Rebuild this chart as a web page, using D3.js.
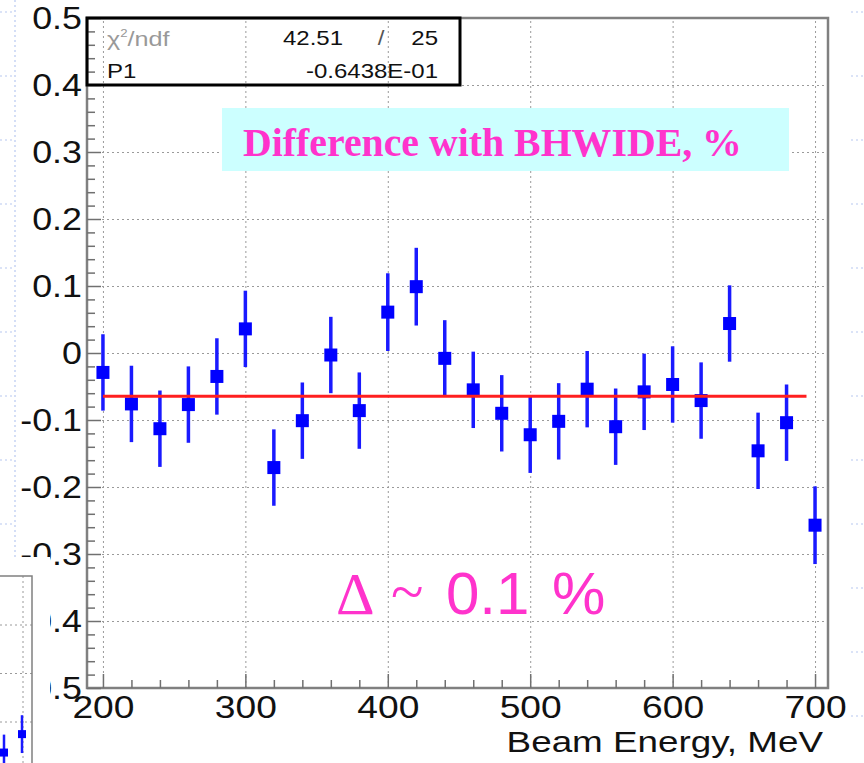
<!DOCTYPE html>
<html>
<head>
<meta charset="utf-8">
<script src="https://cdn.jsdelivr.net/npm/d3@7"></script>
<style>
  body { margin: 0; background: #fff; }
  svg { display: block; }
</style>
</head>
<body>
<div id="chart"></div>
<script>
// beam energy points (MeV) and difference with BHWIDE (%)
const energy = [200, 220, 240, 260, 280, 300, 320, 340, 360, 380, 400, 420, 440,
  460, 480, 500, 520, 540, 560, 580, 600, 620, 640, 660, 680, 700];
const diff = [-0.029, -0.076, -0.113, -0.077, -0.035, 0.036, -0.171, -0.101, -0.003,
  -0.086, 0.061, 0.099, -0.008, -0.055, -0.090, -0.122, -0.102, -0.054, -0.110,
  -0.058, -0.047, -0.071, 0.044, -0.146, -0.104, -0.257];
const diffErr = [0.057, 0.057, 0.057, 0.057, 0.057, 0.057, 0.057, 0.057, 0.057,
  0.057, 0.058, 0.058, 0.057, 0.057, 0.057, 0.057, 0.057, 0.057, 0.057,
  0.057, 0.057, 0.057, 0.057, 0.057, 0.057, 0.058];

// constant fit
const fitP1 = -0.06438;
const fitRange = [200, 694];
const statRows = [
  ['/ndf', '42.51', '25'],
  ['P1', '-0.6438E-01']
];

const xMajor = [200, 300, 400, 500, 600, 700];
const yMajor = [-0.5, -0.4, -0.3, -0.2, -0.1, 0, 0.1, 0.2, 0.3, 0.4, 0.5];

// piece of the neighbouring plot peeking in at bottom left
const fragX = [-0.95, -0.05];
const fragY = [-1.63, -1.25];
const fragErr = [0.37, 0.39];
const fragGrid = [1, 0, -1];

const W = 864, H = 763;
const plot = {left: 87, right: 828, top: 18, bottom: 688};
const sans = '"Liberation Sans", Arial, sans-serif';
const serif = '"Liberation Serif", "Times New Roman", serif';
const magenta = '#ff33cc';

const svg = d3.select('#chart')
  .append('svg')
  .attr('width', W)
  .attr('height', H);

const x = d3.scaleLinear().domain([188.8, 709.1]).range([plot.left, plot.right]);
const y = d3.scaleLinear().domain([-0.5, 0.5]).range([plot.bottom, plot.top]);

//Background slide dotted guides
const bgY = d3.scaleLinear().domain([0, 11]).range([12, 716]);
const bg = svg.append('g').attr('stroke', '#b8c8f0').attr('stroke-width', 1.2)
  .attr('stroke-dasharray', '2,3');
bg.append('line').attr('x1', 15).attr('x2', 15).attr('y1', 0).attr('y2', 557);
bg.selectAll('.bgL').data(d3.range(9)).enter().append('line')
  .attr('x1', 0).attr('x2', 12)
  .attr('y1', d => bgY(d)).attr('y2', d => bgY(d));
bg.selectAll('.bgR').data(d3.range(12)).enter().append('line')
  .attr('x1', 851).attr('x2', 864)
  .attr('y1', d => bgY(d)).attr('y2', d => bgY(d));

//Grid
const grid = svg.append('g');
grid.append('g')
  .attr('transform', 'translate(' + plot.left + ',0)')
  .call(d3.axisLeft(y).tickValues(yMajor).tickSize(-(plot.right - plot.left)).tickFormat(''))
  .call(g => g.select('.domain').remove());
grid.append('g')
  .attr('transform', 'translate(0,' + plot.bottom + ')')
  .call(d3.axisBottom(x).tickValues(xMajor).tickSize(-(plot.bottom - plot.top)).tickFormat(''))
  .call(g => g.select('.domain').remove());
grid.selectAll('line')
  .attr('stroke', '#9a9a9a')
  .attr('stroke-width', 1)
  .attr('stroke-dasharray', '2,3');

//Label box
svg.append('rect')
  .attr('x', 222).attr('y', 108)
  .attr('width', 567).attr('height', 63)
  .attr('fill', '#ccffff');
svg.append('text')
  .attr('x', 243).attr('y', 156)
  .attr('font-family', serif)
  .attr('font-weight', 'bold')
  .attr('font-size', 39.8)
  .attr('fill', magenta)
  .text('Difference with BHWIDE, %');

//Frame
svg.append('rect')
  .attr('x', plot.left).attr('y', plot.top)
  .attr('width', plot.right - plot.left)
  .attr('height', plot.bottom - plot.top)
  .attr('fill', 'none')
  .attr('stroke', '#808080')
  .attr('stroke-width', 2.5);

//Axes (ticks point inward)
const yMinor = d3.range(-50, 51, 2).filter(v => v % 10 !== 0).map(v => v / 100);
const xMinor = d3.range(200, 701, 20).filter(v => v % 100 !== 0);

const yAxis = svg.append('g')
  .attr('transform', 'translate(' + plot.left + ',0)')
  .call(d3.axisLeft(y).tickValues(yMajor).tickSize(-14).tickPadding(4.5).tickFormat(d => String(d)));
svg.append('g')
  .attr('transform', 'translate(' + plot.left + ',0)')
  .call(d3.axisLeft(y).tickValues(yMinor).tickSize(-8).tickFormat(''))
  .call(g => g.select('.domain').remove())
  .selectAll('line').attr('stroke', '#707070').attr('stroke-width', 1.5);

const xAxis = svg.append('g')
  .attr('transform', 'translate(0,' + plot.bottom + ')')
  .call(d3.axisBottom(x).tickValues(xMajor).tickSize(-14).tickPadding(8).tickFormat(d => String(d)));
svg.append('g')
  .attr('transform', 'translate(0,' + plot.bottom + ')')
  .call(d3.axisBottom(x).tickValues(xMinor).tickSize(-8).tickFormat(''))
  .call(g => g.select('.domain').remove())
  .selectAll('line').attr('stroke', '#707070').attr('stroke-width', 1.5);

[yAxis, xAxis].forEach(function (ax) {
  ax.select('.domain').remove();
  ax.selectAll('line').attr('stroke', '#707070').attr('stroke-width', 1.5);
  ax.selectAll('text')
    .attr('font-family', sans)
    .attr('fill', '#111');
});
yAxis.selectAll('text').attr('font-size', 32).attr('transform', 'scale(1.12,1)');
xAxis.selectAll('text').attr('font-size', 31).attr('transform', 'scale(1.2,1)');

//Axis title
svg.append('text')
  .attr('transform', 'translate(823,752) scale(1.27,1)')
  .attr('text-anchor', 'end')
  .attr('font-family', sans)
  .attr('font-size', 29)
  .attr('fill', '#111')
  .text('Beam Energy, MeV');

//Data points with error bars
const points = energy.map(function (e, i) {
  return {e: e, v: diff[i], err: diffErr[i]};
});
const dataG = svg.append('g');
dataG.selectAll('.errBar')
  .data(points)
  .enter().append('line')
  .attr('class', 'errBar')
  .attr('x1', d => x(d.e)).attr('x2', d => x(d.e))
  .attr('y1', d => y(d.v + d.err)).attr('y2', d => y(d.v - d.err))
  .attr('stroke', '#1a1aff')
  .attr('stroke-width', 3.5);
dataG.selectAll('.marker')
  .data(points)
  .enter().append('rect')
  .attr('class', 'marker')
  .attr('x', d => x(d.e) - 6.5).attr('y', d => y(d.v) - 6.5)
  .attr('width', 13).attr('height', 13)
  .attr('fill', '#0000ff');

//Fit line
svg.append('line')
  .attr('x1', x(fitRange[0])).attr('x2', x(fitRange[1]))
  .attr('y1', y(fitP1)).attr('y2', y(fitP1))
  .attr('stroke', '#ff1f1f')
  .attr('stroke-width', 3);

//Stats box
svg.append('rect')
  .attr('x', 87).attr('y', 18)
  .attr('width', 373).attr('height', 67)
  .attr('fill', 'none')
  .attr('stroke', '#000')
  .attr('stroke-width', 3);

function statText(txt, tx, ty, anchor, color) {
  return svg.append('text')
    .attr('transform', 'translate(' + tx + ',' + ty + ') scale(1.2,1)')
    .attr('text-anchor', anchor)
    .attr('font-family', sans)
    .attr('font-size', 20)
    .attr('fill', color)
    .text(txt);
}
const chi = svg.append('text')
  .attr('transform', 'translate(107,46) scale(1.2,1)')
  .attr('font-family', sans)
  .attr('font-size', 21)
  .attr('fill', '#999');
chi.append('tspan').text('\u03c7');
chi.append('tspan').attr('font-size', 11).attr('dy', -9).text('2');
chi.append('tspan').attr('dy', 9).text(statRows[0][0]);
statText(statRows[0][1], 343, 45, 'end', '#111');
statText('/', 381, 45, 'middle', '#555');
statText(statRows[0][2], 438, 45, 'end', '#111');
statText(statRows[1][0], 107, 78, 'start', '#111');
statText(statRows[1][1], 438, 78, 'end', '#111');

//Delta annotation
const delta = svg.append('g').attr('fill', magenta).attr('font-size', 60);
delta.append('text').attr('x', 336).attr('y', 614).attr('font-family', serif).text('\u0394');
delta.append('text').attr('x', 391).attr('y', 612).attr('font-family', serif).text('~');
delta.append('text').attr('x', 446).attr('y', 614).attr('font-family', sans).text('0.1');
delta.append('text').attr('x', 552).attr('y', 614).attr('font-family', sans).text('%');

//Neighbouring plot fragment covering the lower-left labels
const frag = svg.append('g');
frag.append('rect')
  .attr('x', 0).attr('y', 557)
  .attr('width', 50).attr('height', H - 557)
  .attr('fill', '#fff');
const fx = d3.scaleLinear().domain([-1, 0]).range([3, 23]);
const fy = d3.scaleLinear().domain([-1, 1]).range([722, 625]);
frag.selectAll('.fGrid')
  .data(fragGrid)
  .enter().append('line')
  .attr('x1', 0).attr('x2', 32)
  .attr('y1', d => fy(d)).attr('y2', d => fy(d))
  .attr('stroke', '#9a9a9a').attr('stroke-dasharray', '2,3');
frag.append('line')
  .attr('x1', fx(0)).attr('x2', fx(0)).attr('y1', 576).attr('y2', H)
  .attr('stroke', '#9a9a9a').attr('stroke-dasharray', '2,3');
frag.append('path')
  .attr('d', 'M0,576H32V' + H)
  .attr('fill', 'none')
  .attr('stroke', '#808080')
  .attr('stroke-width', 1.5);
frag.selectAll('.fErr')
  .data(fragX)
  .enter().append('line')
  .attr('x1', d => fx(d)).attr('x2', d => fx(d))
  .attr('y1', (d, i) => fy(fragY[i] + fragErr[i]))
  .attr('y2', (d, i) => fy(fragY[i] - fragErr[i]))
  .attr('stroke', '#1a1aff').attr('stroke-width', 2.5);
frag.selectAll('.fPt')
  .data(fragX)
  .enter().append('rect')
  .attr('x', d => fx(d) - 4).attr('y', (d, i) => fy(fragY[i]) - 4)
  .attr('width', 8).attr('height', 8)
  .attr('fill', '#0000ff');
</script>
</body>
</html>
